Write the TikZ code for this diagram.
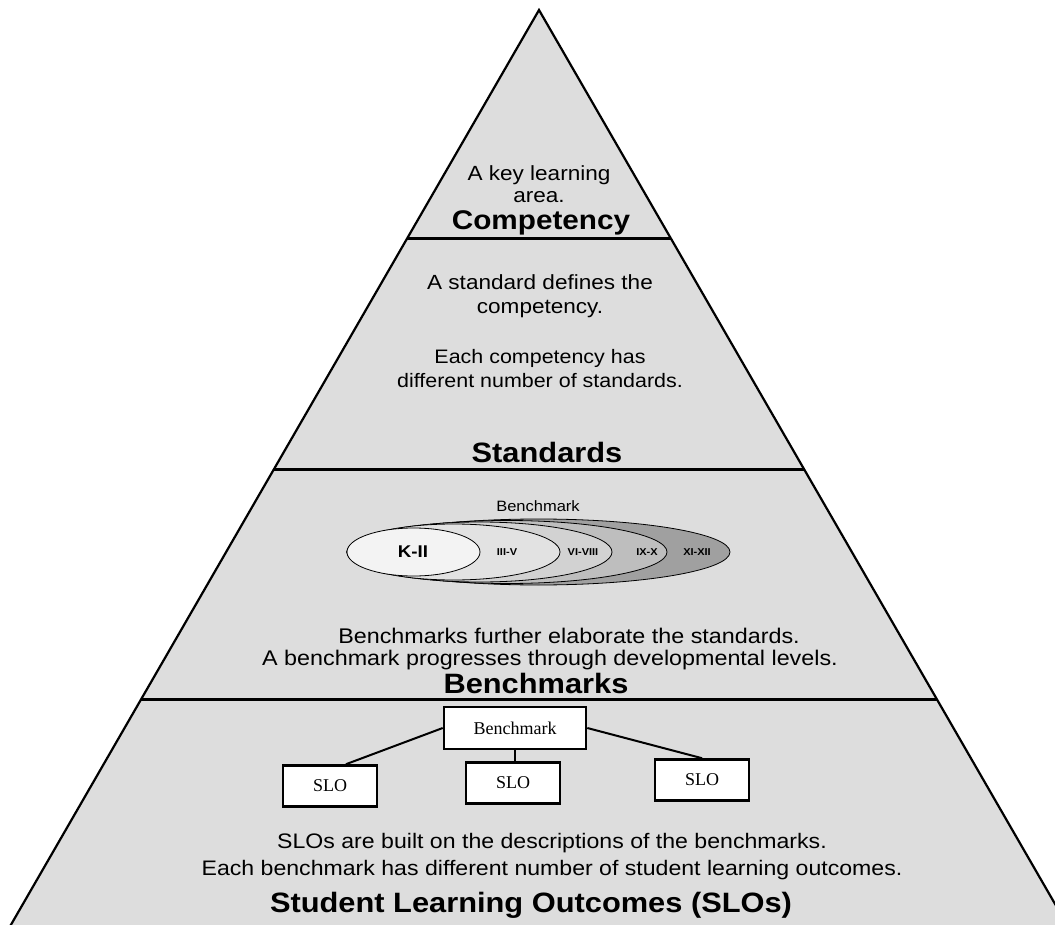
\documentclass[tikz,border=0pt]{standalone}
\usepackage{fontspec}
\setmainfont{Liberation Sans}[FakeStretch=1.1]
\newfontfamily\serifbox{Liberation Serif}
\definecolor{pyr}{RGB}{221,221,221}
\definecolor{eA}{RGB}{243,243,243}
\definecolor{eB}{RGB}{226,226,226}
\definecolor{eC}{RGB}{210,210,210}
\definecolor{eD}{RGB}{190,190,190}
\definecolor{eE}{RGB}{160,160,160}
\begin{document}
\begin{tikzpicture}[x=1pt,y=-1pt,
  body/.style={align=center,inner sep=0pt,font=\fontsize{20.5}{24}\selectfont},
  title/.style={inner sep=0pt,font=\fontsize{28}{32}\selectfont\bfseries},
  tier/.style={line width=3pt},
  sbox/.style={draw,line width=2.6pt,fill=white,inner sep=0pt,minimum width=94,minimum height=41,font=\serifbox\fontsize{18}{20}\selectfont},
  ell/.style={draw,line width=0.8pt},
  elab/.style={inner sep=0pt,font=\fontsize{10}{12}\selectfont\bfseries},
  link/.style={line width=2pt}]
\useasboundingbox (0,0) rectangle (1055,925);
\clip (0,0) rectangle (1055,925);
% pyramid
\coordinate (apex) at (539,10);
\coordinate (bl) at (539-535.1,937);
\coordinate (br) at (539+535.1,937);
\fill[pyr] (apex) -- (bl) -- (br) -- cycle;
\draw[line width=2.2pt,line join=miter] (bl) -- (apex) -- (br);
\coordinate (l1a) at (539-132.2,239); \coordinate (l1b) at (539+132.2,239);
\coordinate (l2a) at (539-265,469);   \coordinate (l2b) at (539+265,469);
\coordinate (l3a) at (539-397.8,699); \coordinate (l3b) at (539+397.8,699);
\draw[tier] (l1a) -- (l1b);
\draw[tier] (l2a) -- (l2b);
\draw[tier] (l3a) -- (l3b);
% tier 1
\node[body,font=\fontsize{20.5}{22}\selectfont] (t1) at (539,184) {A key learning\\area.};
\node[title,font=\fontsize{27}{30}\selectfont\bfseries] (c1) at (541,223) {Competency};
% tier 2
\node[body] (t2a) at (540,296) {A standard defines the\\competency.};
\node[body,font=\fontsize{19.5}{24}\selectfont] (t2b) at (540,369) {Each competency has\\different number of standards.};
\node[title] (c2) at (547,452) {Standards};
% tier 3
\node[inner sep=0pt,font=\fontsize{15}{18}\selectfont] (bmlab) at (538,506) {Benchmark};
\fill[eE] (538.5,552) ellipse [x radius=191.5,y radius=33];
\draw[ell] (538.5,552) ellipse [x radius=191.5,y radius=33];
\fill[eD] (507,552) ellipse [x radius=160,y radius=31.5];
\draw[ell] (507,552) ellipse [x radius=160,y radius=31.5];
\fill[eC] (479.5,552) ellipse [x radius=132.5,y radius=30];
\draw[ell] (479.5,552) ellipse [x radius=132.5,y radius=30];
\fill[eB] (453.5,552) ellipse [x radius=106.5,y radius=28];
\draw[ell] (453.5,552) ellipse [x radius=106.5,y radius=28];
\fill[eA] (413.5,552) ellipse [x radius=66.5,y radius=24];
\draw[ell] (413.5,552) ellipse [x radius=66.5,y radius=24];
\node[inner sep=0pt,font=\fontsize{17}{20}\selectfont\bfseries] (k2) at (413,552) {K-II};
\node[elab] (e35) at (507,552) {III-V};
\node[elab] (e68) at (583,552) {VI-VIII};
\node[elab] (e910) at (647,552) {IX-X};
\node[elab] (e1112) at (697,552) {XI-XII};
\node[body,font=\fontsize{21.2}{24}\selectfont] (t3a) at (569,636) {Benchmarks further elaborate the standards.};
\node[body,font=\fontsize{21.2}{24}\selectfont] (t3b) at (550,660) {A benchmark progresses through developmental levels.};
\node[title] (c3) at (536,683) {Benchmarks};
% tier 4
\node[sbox,minimum width=142,minimum height=42] (bm) at (515,728) {Benchmark};
\node[sbox] (sloL) at (330,786) {SLO};
\node[sbox] (sloM) at (513,783) {SLO};
\node[sbox] (sloR) at (702,780) {SLO};
\draw[link] (bm.west) -- ([xshift=16pt]sloL.north);
\draw[link] (bm.south) -- (bm.south |- sloM.north);
\draw[link] (bm.east) -- (sloR.north);
\node[body,font=\fontsize{21}{27}\selectfont] (t4) at (552,857) {SLOs are built on the descriptions of the benchmarks.\\Each benchmark has different number of student learning outcomes.};
\node[title] (c4) at (531,905) {Student Learning Outcomes (SLOs)};
\end{tikzpicture}
\end{document}
